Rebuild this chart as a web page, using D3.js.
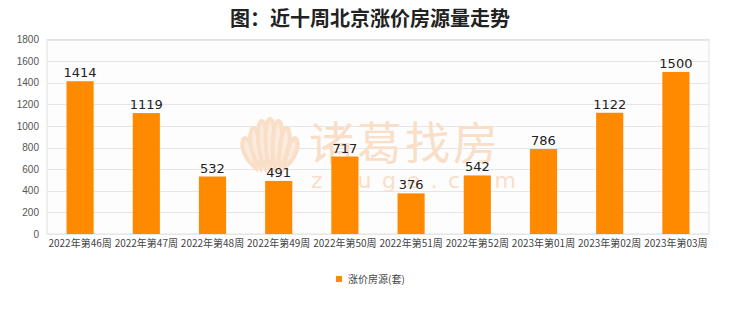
<!DOCTYPE html>
<html>
<head>
<meta charset="utf-8">
<script src="https://cdn.jsdelivr.net/npm/d3@7"></script>
<style>
  html, body { margin: 0; padding: 0; background: #ffffff; }
  svg { display: block; }
  text { font-family: "Noto Sans CJK SC", "Noto Sans", sans-serif; }
</style>
</head>
<body>
<svg id="chart" width="740" height="312"></svg>
<script>
const title = "图：近十周北京涨价房源量走势";
const categories = ["2022年第46周","2022年第47周","2022年第48周","2022年第49周","2022年第50周","2022年第51周","2022年第52周","2023年第01周","2023年第02周","2023年第03周"];
const values = [1414, 1119, 532, 491, 717, 376, 542, 786, 1122, 1500];
const seriesName = "涨价房源(套)";
const yTicks = [0, 200, 400, 600, 800, 1000, 1200, 1400, 1600, 1800];

const svg = d3.select("#chart");
const margin = { left: 47, right: 31, top: 39.5, bottom: 78 };
const W = 740, H = 312;
const x = d3.scaleBand().domain(categories).range([margin.left, W - margin.right]).paddingInner(0.59).paddingOuter(0.295);
const y = d3.scaleLinear().domain([0, 1800]).range([H - margin.bottom, margin.top]);

// title
svg.append("text").attr("x", 370).attr("y", 26).attr("text-anchor", "middle")
  .attr("font-size", 20).attr("font-weight", "bold").attr("fill", "#222").text(title);

// plot background
svg.append("rect").attr("x", margin.left).attr("y", margin.top)
  .attr("width", W - margin.left - margin.right).attr("height", H - margin.top - margin.bottom)
  .attr("fill", "#fdfdfd").attr("stroke", "#e2e2e2").attr("stroke-width", 1);

// grid
svg.append("g").selectAll("line").data(yTicks).join("line")
  .attr("x1", margin.left).attr("x2", W - margin.right)
  .attr("y1", d => Math.round(y(d)) + 0.5).attr("y2", d => Math.round(y(d)) + 0.5)
  .attr("stroke", "#e6e6e6").attr("stroke-width", 1);

// y axis labels
const yAxis = d3.axisLeft(y).tickValues(yTicks).tickFormat(d3.format("d")).tickSize(0).tickPadding(8);
const gy = svg.append("g").attr("transform", `translate(${margin.left},0)`).call(yAxis);
gy.select(".domain").remove();
gy.selectAll("text").attr("font-size", 10).attr("fill", "#555").style("font-family", "'Liberation Sans', Arial, sans-serif");

// watermark
const wm = svg.append("g");
const petalColor = "#f9dec8";
const cx = 270, baseY = 168;
[[-24, 30], [-16, 40], [-8, 47], [0, 49], [8, 47], [16, 40], [24, 30]].forEach(([dx, h]) => {
  wm.append("path")
    .attr("d", `M${cx + dx * 0.6},${baseY} C${cx + dx - 8},${baseY - h * 0.5} ${cx + dx - 4},${baseY - h} ${cx + dx * 1.05},${baseY - h} C${cx + dx + 4},${baseY - h} ${cx + dx + 8},${baseY - h * 0.5} ${cx + dx * 0.6},${baseY}Z`)
    .attr("fill", "#fcebdd").attr("stroke", petalColor).attr("stroke-width", 4);
});
wm.append("text").attr("x", 309).attr("y", 160).attr("font-size", 45).attr("fill", petalColor)
  .attr("letter-spacing", 3).text("诸葛找房");
wm.append("text").attr("x", 311).attr("y", 188).attr("font-size", 22).attr("fill", petalColor)
  .attr("letter-spacing", 10.5).style("font-family", "'DejaVu Sans', sans-serif").text("zhuge.com");

// bars
svg.append("g").selectAll("rect").data(values).join("rect")
  .attr("x", (d, i) => x(categories[i])).attr("width", x.bandwidth())
  .attr("y", d => y(d)).attr("height", d => y(0) - y(d))
  .attr("fill", "#ff8a00");

// value labels
svg.append("g").selectAll("text").data(values).join("text")
  .attr("x", (d, i) => x(categories[i]) + x.bandwidth() / 2)
  .attr("y", d => y(d) - 4).attr("text-anchor", "middle")
  .attr("font-size", 13).attr("fill", "#222")
  .style("font-family", "'DejaVu Sans', sans-serif").text(d => d);

// x axis labels
const xAxis = d3.axisBottom(x).tickSize(0).tickPadding(6);
const gx = svg.append("g").attr("transform", `translate(0,${H - margin.bottom})`).call(xAxis);
gx.select(".domain").remove();
gx.selectAll("text").attr("font-size", 10).attr("fill", "#444");

// legend
const lg = svg.append("g").attr("transform", "translate(336,276)");
lg.append("rect").attr("x", 0).attr("y", 0).attr("width", 6).attr("height", 6).attr("fill", "#ff8a00");
lg.append("text").attr("x", 12).attr("y", 7).attr("font-size", 10).attr("fill", "#444").text(seriesName);
</script>
</body>
</html>
